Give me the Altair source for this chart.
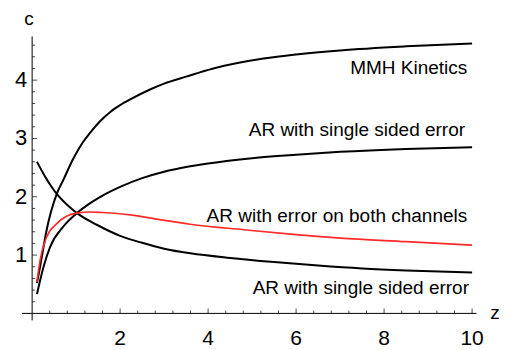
import altair as alt
import pandas as pd

# ---- data ----
mmh_x = [0.11, 0.18, 0.22, 0.33, 0.56, 0.71, 0.94, 1.15, 1.32, 1.55, 1.77, 2.0, 2.23, 2.68, 3.0, 3.5, 4.12, 5.26, 6.0, 7.0, 8.5, 10.0]
mmh_y = [0.52, 0.80, 0.97, 1.43, 2.05, 2.29, 2.66, 2.93, 3.10, 3.30, 3.45, 3.57, 3.67, 3.84, 3.94, 4.06, 4.20, 4.37, 4.44, 4.51, 4.58, 4.63]

ar_up_x = [0.11, 0.26, 0.41, 0.71, 1.02, 1.32, 1.6, 2.0, 2.5, 3.0, 3.5, 4.0, 5.0, 6.0, 7.0, 8.5, 10.0]
ar_up_y = [0.33, 0.80, 1.14, 1.49, 1.72, 1.89, 2.02, 2.17, 2.32, 2.43, 2.51, 2.57, 2.66, 2.72, 2.77, 2.82, 2.85]

ar_down_x = [0.11, 0.30, 0.56, 0.80, 1.02, 1.47, 2.0, 2.5, 3.0, 3.6, 4.5, 5.5, 6.5, 7.5, 8.5, 10.0]
ar_down_y = [2.60, 2.34, 2.05, 1.86, 1.72, 1.52, 1.33, 1.21, 1.11, 1.03, 0.95, 0.88, 0.82, 0.77, 0.735, 0.70]

both_x = [0.11, 0.18, 0.33, 0.56, 0.79, 1.02, 1.32, 1.6, 2.23, 2.98, 3.59, 4.88, 6.0, 7.0, 8.5, 10.0]
both_y = [0.54, 0.91, 1.31, 1.54, 1.67, 1.72, 1.74, 1.73, 1.69, 1.60, 1.53, 1.43, 1.35, 1.29, 1.23, 1.17]

label_texts = ["MMH Kinetics", "AR with single sided error", "AR with error on both channels", "AR with single sided error"]
label_x = [9.89, 9.84, 9.89, 9.93]
label_y = [4.10, 3.04, 1.57, 0.34]

x_major = [2, 4, 6, 8, 10]
x_minor = [0.4, 0.8, 1.2, 1.6, 2.4, 2.8, 3.2, 3.6, 4.4, 4.8, 5.2, 5.6, 6.4, 6.8, 7.2, 7.6, 8.4, 8.8, 9.2, 9.6]
y_major = [1, 2, 3, 4]
y_minor = [0.2, 0.4, 0.6, 0.8, 1.2, 1.4, 1.6, 1.8, 2.2, 2.4, 2.6, 2.8, 3.2, 3.4, 3.6, 3.8, 4.2, 4.4, 4.6]

X_RANGE = [-0.23, 10.1]
Y_RANGE = [-0.12, 4.75]
FONT = "Liberation Sans"

# ---- tables ----
rows = []
for name, xs, ys in [("mmh", mmh_x, mmh_y), ("ar_up", ar_up_x, ar_up_y),
                     ("ar_down", ar_down_x, ar_down_y), ("both", both_x, both_y)]:
    for i, (a, b) in enumerate(zip(xs, ys)):
        rows.append({"series": name, "x": a, "y": b, "order": i})
curves = pd.DataFrame(rows)

labels = pd.DataFrame({"text": label_texts, "x": label_x, "y": label_y})
axes_df = pd.DataFrame({"x": [X_RANGE[0], 0], "x2": [X_RANGE[1], 0],
                        "y": [0, Y_RANGE[0]], "y2": [0, Y_RANGE[1]]})
xmaj = pd.DataFrame({"x": x_major, "y": [0] * len(x_major), "lab": [str(v) for v in x_major]})
xmin = pd.DataFrame({"x": x_minor, "y": [0] * len(x_minor)})
ymaj = pd.DataFrame({"x": [0] * len(y_major), "y": y_major, "lab": [str(v) for v in y_major]})
ymin = pd.DataFrame({"x": [0] * len(y_minor), "y": y_minor})
titles = pd.DataFrame({"text": ["c", "z"], "x": [-0.07, 10.52], "y": [5.04, 0.0]})

xsc = alt.Scale(domain=X_RANGE, nice=False, zero=False)
ysc = alt.Scale(domain=Y_RANGE, nice=False, zero=False)
X = lambda: alt.X("x:Q", scale=xsc, axis=None)
Y = lambda: alt.Y("y:Q", scale=ysc, axis=None)

black = alt.Chart(curves).transform_filter(alt.datum.series != "both").mark_line(
    color="black", strokeWidth=2, interpolate="monotone"
).encode(x=X(), y=Y(), detail="series:N", order="order:Q")

red = alt.Chart(curves).transform_filter(alt.datum.series == "both").mark_line(
    color="#ff2a2a", strokeWidth=1.6, interpolate="monotone"
).encode(x=X(), y=Y(), order="order:Q")

axis_lines = alt.Chart(axes_df).mark_rule(color="black", strokeWidth=1).encode(
    x=X(), x2="x2:Q", y=Y(), y2="y2:Q")

xmaj_ticks = alt.Chart(xmaj).mark_tick(orient="vertical", size=5, thickness=1, color="black", yOffset=-2.5).encode(x=X(), y=Y())
xmin_ticks = alt.Chart(xmin).mark_tick(orient="vertical", size=3, thickness=1, color="black", yOffset=-1.5).encode(x=X(), y=Y())
ymaj_ticks = alt.Chart(ymaj).mark_tick(orient="horizontal", size=5, thickness=1, color="black", xOffset=2.5).encode(x=X(), y=Y())
ymin_ticks = alt.Chart(ymin).mark_tick(orient="horizontal", size=3, thickness=1, color="black", xOffset=1.5).encode(x=X(), y=Y())

xlabs = alt.Chart(xmaj).mark_text(font=FONT, fontSize=21, align="center", baseline="alphabetic", dy=31.5, color="black").encode(
    x=X(), y=Y(), text="lab:N")
ylabs = alt.Chart(ymaj).mark_text(font=FONT, fontSize=22, align="right", baseline="middle", dx=-5, color="black").encode(
    x=X(), y=Y(), text="lab:N")
axis_titles = alt.Chart(titles).mark_text(font=FONT, fontSize=19, align="center", baseline="middle", color="black").encode(
    x=X(), y=Y(), text="text:N")

ann = alt.Chart(labels).mark_text(font=FONT, fontSize=19, align="right", baseline="alphabetic", color="black").encode(
    x=X(), y=Y(), text="text:N")

chart = alt.layer(
    axis_lines, xmaj_ticks, xmin_ticks, ymaj_ticks, ymin_ticks,
    black, red, ann, xlabs, ylabs, axis_titles
).properties(
    width=454.5, height=284,
    padding={"left": 14, "top": 28.4, "right": 22, "bottom": 30},
    autosize="none", background="white"
).configure_view(stroke=None)

chart.save("out.html", embed_options={"renderer": "svg", "actions": False})
